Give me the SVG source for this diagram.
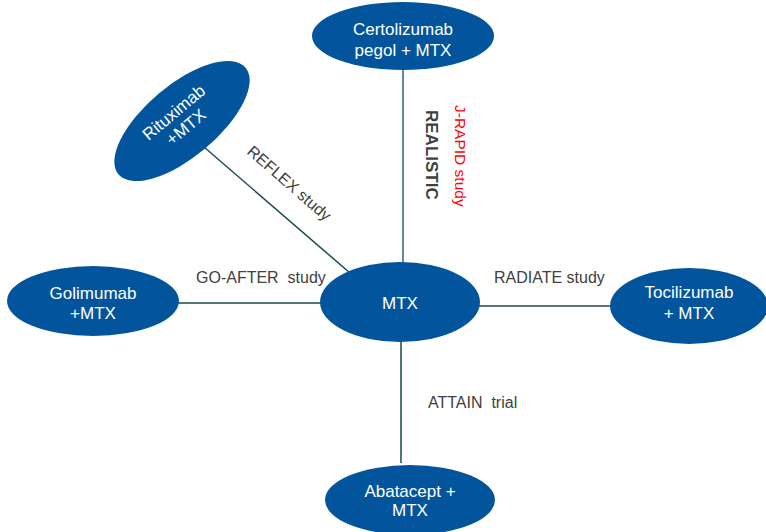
<svg xmlns="http://www.w3.org/2000/svg" width="766" height="532" viewBox="0 0 766 532">
<style>
.node{fill:#02559c;}
.nt{fill:#ffffff;font-family:"Liberation Sans",Arial,sans-serif;font-size:17px;text-anchor:middle;}
.lbl{fill:#404040;font-family:"Liberation Sans",Arial,sans-serif;font-size:16px;white-space:pre;}
.ln{stroke:#1e4a4e;stroke-width:1.5;fill:none;}
</style>
<rect width="766" height="532" fill="#ffffff"/>
<g id="connectors">
<line class="ln" x1="403" y1="68" x2="403" y2="264" style="stroke:#2d5f95"/>
<line class="ln" x1="204" y1="147" x2="350" y2="273"/>
<line class="ln" x1="178" y1="303" x2="321" y2="303"/>
<line class="ln" x1="479" y1="306" x2="611" y2="306"/>
<line class="ln" x1="401" y1="341" x2="401" y2="463"/>
</g>
<g id="labels">
<text class="lbl" transform="translate(246,153) rotate(41)">REFLEX study</text>
<text class="lbl" x="196" y="283" xml:space="preserve">GO-AFTER  study</text>
<text class="lbl" x="494" y="283">RADIATE study</text>
<text class="lbl" x="428" y="408" xml:space="preserve">ATTAIN  trial</text>
<text class="lbl" transform="translate(426,110) rotate(90)" style="font-weight:bold;font-size:17px">REALISTIC</text>
<text class="lbl" transform="translate(455,105) rotate(90)" style="fill:#ff0000;font-size:15.5px">J-RAPID study</text>
</g>
<g id="certolizumab">
<ellipse class="node" cx="403" cy="36" rx="91" ry="34"/>
<text class="nt" x="403" y="35">Certolizumab</text>
<text class="nt" x="403" y="56">pegol + MTX</text>
</g>
<g id="rituximab">
<ellipse class="node" cx="182" cy="121" rx="83" ry="36" transform="rotate(-40 182 121)"/>
<text class="nt" transform="translate(180,120) rotate(-40)"><tspan x="0" y="-4">Rituximab</tspan><tspan x="0" y="15">+MTX</tspan></text>
</g>
<g id="golimumab">
<ellipse class="node" cx="93" cy="301" rx="86" ry="35"/>
<text class="nt" x="93" y="299">Golimumab</text>
<text class="nt" x="93" y="319">+MTX</text>
</g>
<g id="mtx">
<ellipse class="node" cx="400" cy="302" rx="80" ry="40"/>
<text class="nt" x="400" y="309">MTX</text>
</g>
<g id="tocilizumab">
<ellipse class="node" cx="689" cy="306" rx="79" ry="38"/>
<text class="nt" x="689" y="298">Tocilizumab</text>
<text class="nt" x="689" y="319">+ MTX</text>
</g>
<g id="abatacept">
<ellipse class="node" cx="410" cy="500" rx="85" ry="35"/>
<text class="nt" x="410" y="497">Abatacept +</text>
<text class="nt" x="410" y="516">MTX</text>
</g>
</svg>
